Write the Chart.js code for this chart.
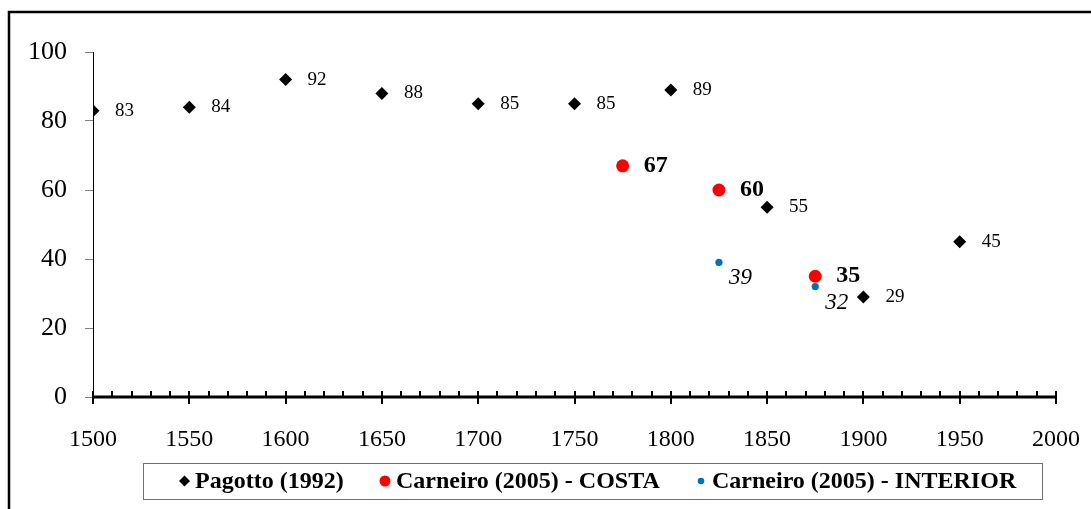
<!DOCTYPE html>
<html>
<head>
<meta charset="utf-8">
<script src="https://cdn.jsdelivr.net/npm/chart.js@4"></script>
<style>
  body { margin: 0; background: #fff; }
  canvas { display: block; }
</style>
</head>
<body>
<canvas id="chart" width="1091" height="509"></canvas>
<script>
// values
const pagottoYears = [1500, 1550, 1600, 1650, 1700, 1750, 1800, 1850, 1900, 1950]
const pagottoValues = [83, 84, 92, 88, 85, 85, 89, 55, 29, 45]
const costaYears = [1775, 1825, 1875]
const costaValues = [67, 60, 35]
const interiorYears = [1825, 1875]
const interiorValues = [39, 32]
const seriesNames = ['Pagotto (1992)', 'Carneiro (2005) - COSTA', 'Carneiro (2005) - INTERIOR']
const xMin = 1500, xMax = 2000, xMajor = 50, xMinor = 10
const yMin = 0, yMax = 100, yStep = 20

const SERIF = '"Liberation Serif", "Times New Roman", serif'

function toPoints(xs, ys) {
    return xs.map((x, i) => ({x: x, y: ys[i]}))
}

// per-dataset styling of the value labels next to each point
const labelStyles = [
    {font: '19px ' + SERIF, dx: 22, dy: 0},
    {font: 'bold 24px ' + SERIF, dx: 21, dy: 0},
    {font: 'italic 23px ' + SERIF, dx: 10, dy: 16}
]

const valueLabels = {
    id: 'valueLabels',
    afterDatasetsDraw(chart) {
        const ctx = chart.ctx
        ctx.save()
        ctx.fillStyle = '#000'
        ctx.textAlign = 'left'
        ctx.textBaseline = 'middle'
        chart.data.datasets.forEach((ds, i) => {
            const st = labelStyles[i]
            ctx.font = st.font
            chart.getDatasetMeta(i).data.forEach((el, j) => {
                ctx.fillText(String(ds.data[j].y), el.x + st.dx, el.y + st.dy)
            })
        })
        ctx.restore()
    }
}

// thick x axis with major ticks crossing and minor ticks on top
const xAxisLine = {
    id: 'xAxisLine',
    afterDraw(chart) {
        const ctx = chart.ctx
        const xs = chart.scales.x
        const y0 = chart.scales.y.getPixelForValue(0)
        ctx.save()
        ctx.strokeStyle = '#000'
        ctx.lineWidth = 3
        ctx.beginPath()
        ctx.moveTo(xs.getPixelForValue(xMin), y0)
        ctx.lineTo(xs.getPixelForValue(xMax), y0)
        ctx.stroke()
        ctx.lineWidth = 2
        ctx.beginPath()
        for (let v = xMin; v <= xMax; v += xMinor) {
            const px = Math.round(xs.getPixelForValue(v))
            if ((v - xMin) % xMajor === 0) {
                ctx.moveTo(px, y0 - 6)
                ctx.lineTo(px, y0 + 7)
            } else {
                ctx.moveTo(px, y0 - 6)
                ctx.lineTo(px, y0)
            }
        }
        ctx.stroke()
        ctx.restore()
    }
}

// outer frame + boxed legend under the axis
const frameAndLegend = {
    id: 'frameAndLegend',
    afterDraw(chart) {
        const ctx = chart.ctx
        ctx.save()
        ctx.strokeStyle = '#000'
        ctx.lineWidth = 2.5
        ctx.strokeRect(9, 12, 1300, 700)

        ctx.lineWidth = 1
        ctx.strokeStyle = '#707070'
        ctx.strokeRect(143.5, 463.5, 899, 36)

        const cy = 481
        const marks = [184.5, 385, 701]
        const texts = [195, 396, 712]
        chart.data.datasets.forEach((ds, i) => {
            const mx = marks[i]
            ctx.fillStyle = ds.backgroundColor
            ctx.beginPath()
            if (ds.pointStyle === 'rectRot') {
                const r = 5.5
                ctx.moveTo(mx, cy - r)
                ctx.lineTo(mx + r, cy)
                ctx.lineTo(mx, cy + r)
                ctx.lineTo(mx - r, cy)
                ctx.closePath()
            } else {
                ctx.arc(mx, cy, i === 1 ? 5.5 : 3.3, 0, Math.PI * 2)
            }
            ctx.fill()
            ctx.fillStyle = '#000'
            ctx.font = 'bold 24px ' + SERIF
            ctx.textBaseline = 'middle'
            ctx.fillText(ds.label, texts[i], cy + 1)
        })
        ctx.restore()
    }
}

new Chart(document.querySelector('#chart'), {
    type: 'scatter',
    data: {
        datasets: [{
            label: seriesNames[0],
            data: toPoints(pagottoYears, pagottoValues),
            pointStyle: 'rectRot',
            pointRadius: 6.5,
            backgroundColor: '#000',
            borderColor: '#000',
            borderWidth: 0
        }, {
            label: seriesNames[1],
            data: toPoints(costaYears, costaValues),
            pointStyle: 'circle',
            pointRadius: 6.5,
            backgroundColor: '#ff0000',
            borderColor: '#ff0000',
            borderWidth: 0
        }, {
            label: seriesNames[2],
            data: toPoints(interiorYears, interiorValues),
            pointStyle: 'circle',
            pointRadius: 3.6,
            backgroundColor: '#0070c0',
            borderColor: '#0070c0',
            borderWidth: 0
        }]
    },
    options: {
        responsive: false,
        animation: false,
        layout: {padding: {top: 52, right: 35, left: 0, bottom: 0}},
        plugins: {legend: {display: false}, tooltip: {enabled: false}},
        scales: {
            x: {
                type: 'linear',
                min: xMin,
                max: xMax,
                ticks: {
                    stepSize: xMajor, color: '#000', padding: 20,
                    font: {family: SERIF, size: 24},
                    callback: v => String(v)
                },
                grid: {display: false},
                border: {display: false},
                afterFit(s) {
                    s.height = 112
                    s.paddingLeft = 0
                    s.paddingRight = 0
                }
            },
            y: {
                min: yMin,
                max: yMax,
                ticks: {stepSize: yStep, color: '#000', padding: 18, font: {family: SERIF, size: 26}},
                grid: {drawOnChartArea: false, tickLength: 8, color: '#808080'},
                border: {color: '#000', width: 1},
                afterFit(s) { s.width = 93 }
            }
        }
    },
    plugins: [valueLabels, xAxisLine, frameAndLegend]
})
</script>
</body>
</html>
